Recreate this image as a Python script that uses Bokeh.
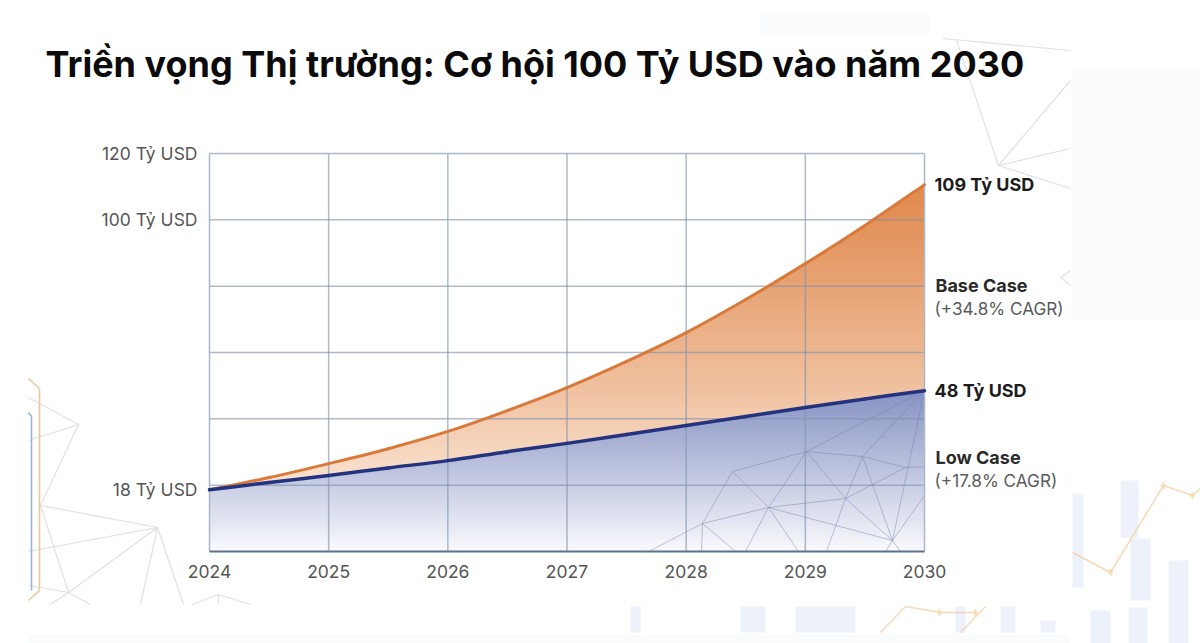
from bokeh.embed import file_html
from bokeh.resources import INLINE
from bokeh.plotting import figure
from bokeh.models import FixedTicker, LinearAxis, Range1d
from bokeh.core.properties import value
import numpy as np

# ---- chart data ----
years = [2024, 2024.5, 2025, 2025.5, 2026, 2026.5, 2027, 2027.5, 2028, 2028.5, 2029, 2029.5, 2030]
base_case = [18.6, 22.3, 26.5, 31.0, 36.2, 42.5, 49.4, 57.3, 66.0, 76.0, 86.8, 98.3, 110.6]
low_case = [18.6, 20.8, 22.9, 25.2, 27.4, 30.1, 32.6, 35.3, 38.0, 40.7, 43.4, 46.0, 48.5]
year_ticks = [2024, 2025, 2026, 2027, 2028, 2029, 2030]
grid_values = [0, 20, 40, 60, 80, 100, 120]
value_ticks = [18.6, 100, 120]
value_labels = ["18 Tỷ USD", "100 Tỷ USD", "120 Tỷ USD"]
title_text = "Triền vọng Thị trường: Cơ hội 100 Tỷ USD vào năm 2030"
end_labels = ["109 Tỷ USD", "Base Case", "(+34.8% CAGR)", "48 Tỷ USD", "Low Case", "(+17.8% CAGR)"]

# ---- faint backdrop artwork (page pixels), not chart data ----
net_outer = [
    ((28,397),(78,424)), ((28,440),(78,424)), ((40,505),(78,424)), ((40,505),(157,527)),
    ((28,551),(157,527)), ((68,592),(157,527)), ((157,527),(140,604)), ((157,527),(183,604)),
    ((40,505),(68,592)), ((68,592),(90,604)), ((68,592),(50,604)), ((28,585),(68,592)),
    ((218,594),(192,604)), ((218,594),(250,604)), ((218,594),(218,604)),
    ((942,38),(1070,50)), ((956,40),(998,165)), ((998,165),(1070,80)),
    ((998,165),(1070,148)), ((998,165),(1070,188)), ((1070,270),(1060,277)), ((1060,277),(1070,285)),
]
net_inner = [
    ((732,471),(806,451)), ((806,451),(862,456)), ((862,456),(905,467)), ((905,467),(924,466)),
    ((806,451),(924,390)), ((862,456),(924,390)), ((892,540),(924,390)), ((732,471),(768,507)),
    ((732,471),(702,523)), ((806,451),(768,507)), ((806,451),(845,498)), ((862,456),(845,498)),
    ((862,456),(892,540)), ((845,498),(892,540)), ((768,507),(845,498)), ((845,498),(905,467)),
    ((768,507),(702,523)), ((768,507),(892,540)), ((702,523),(648,551)), ((702,523),(701,551)),
    ((702,523),(735,551)), ((768,507),(745,551)), ((768,507),(798,551)), ((845,498),(826,551)),
    ((892,540),(885,551)), ((892,540),(900,551)), ((892,540),(924,495)),
]
candles = [(1072,493,1083,587),(1120,480,1138,537),(1130,538,1150,600),(1168,560,1188,643),
           (1090,610,1110,643),(1128,607,1147,643),(630,606,640,632),(740,606,765,632),
           (795,606,830,632),(830,606,855,632),(955,606,965,632),(1000,606,1015,632),(1040,620,1055,632)]
tints = [(28,634,1070,643),(1072,70,1200,320),(760,14,930,34)]
spark = [((1072,552),(1110,572)),((1110,572),(1163,485)),((1163,485),(1192,495)),((1192,495),(1200,488)),
         ((905,606),(940,612)),((940,612),(975,612)),((880,632),(905,606)),((960,632),(985,606))]
spark_dots = [(1110,572),(1163,485),(1192,495),(939,612),(975,612)]
bracket_orange = [((28,378),(39,388)),((39,388),(39,590)),((39,590),(28,600))]
bracket_blue = [((28,412),(31,416)),((31,416),(31,590))]

W, H = 1200, 643
L, R, T, B = 209, 924, 153, 551   # chart frame in page pixels

# The plotting frame fills the whole page so that outside labels are not clipped;
# the data ranges are chosen so that 2024-2030 and 0-120 land on the chart frame.
px_per_year = (R - L) / (year_ticks[-1] - year_ticks[0])
px_per_unit = (B - T) / (grid_values[-1] - grid_values[0])
x_range = Range1d(year_ticks[0] - L / px_per_year, year_ticks[-1] + (W - R) / px_per_year)
y_range = Range1d(grid_values[0] - (H - B) / px_per_unit, grid_values[-1] + T / px_per_unit)

p = figure(width=W, height=H, output_backend="svg", toolbar_location=None,
           x_range=x_range, y_range=y_range, x_axis_location=None, y_axis_location=None,
           min_border=0)
p.extra_x_ranges["page"] = Range1d(0, W)
p.extra_y_ranges["page"] = Range1d(H, 0)
p.background_fill_color = "white"
p.border_fill_color = "white"
p.outline_line_color = None
p.grid.visible = False

def lerp(c0, c1, t):
    return "#%02x%02x%02x" % tuple(int(round(a + (b - a) * t)) for a, b in zip(c0, c1))

def controls(xs, ys):
    """Catmull-Rom control points: the drawn curve passes through every read value."""
    xs, ys = np.asarray(xs, float), np.asarray(ys, float)
    px = np.r_[xs[0], xs, xs[-1]]
    py = np.r_[ys[0], ys, ys[-1]]
    cx0 = xs[:-1] + (px[2:-1] - px[:-3]) / 6
    cy0 = ys[:-1] + (py[2:-1] - py[:-3]) / 6
    cx1 = xs[1:] - (px[3:] - px[1:-2]) / 6
    cy1 = ys[1:] - (py[3:] - py[1:-2]) / 6
    return cx0, cy0, cx1, cy1

def dense(xs, ys, n=30):
    cx0, cy0, cx1, cy1 = controls(xs, ys)
    t = np.linspace(0, 1, n, endpoint=False)[:, None]
    xs, ys = np.asarray(xs, float), np.asarray(ys, float)
    bx = (1-t)**3*xs[:-1] + 3*(1-t)**2*t*cx0 + 3*(1-t)*t**2*cx1 + t**3*xs[1:]
    by = (1-t)**3*ys[:-1] + 3*(1-t)**2*t*cy0 + 3*(1-t)*t**2*cy1 + t**3*ys[1:]
    return np.r_[bx.T.ravel(), xs[-1]], np.r_[by.T.ravel(), ys[-1]]

def page_segments(pairs, color, alpha, width, level):
    p.segment([a[0] for a, b in pairs], [a[1] for a, b in pairs],
              [b[0] for a, b in pairs], [b[1] for a, b in pairs],
              x_range_name="page", y_range_name="page",
              line_color=color, line_alpha=alpha, line_width=width, level=level)

# --- backdrop ---
p.quad(left=[t[0] for t in tints], right=[t[2] for t in tints], top=[t[1] for t in tints], bottom=[t[3] for t in tints],
       x_range_name="page", y_range_name="page", fill_color="#f6f7fb", fill_alpha=0.5, line_alpha=0, level="image")
p.quad(left=[c[0] for c in candles], right=[c[2] for c in candles], top=[c[1] for c in candles], bottom=[c[3] for c in candles],
       x_range_name="page", y_range_name="page", fill_color="#dce5f5", fill_alpha=0.5, line_alpha=0, level="image")
page_segments(net_outer, "#c9cdd3", 0.6, 1.2, "image")
page_segments(spark, "#f2cf9f", 0.75, 1.5, "image")
page_segments(bracket_orange, "#e8c8a0", 1, 1.6, "image")
page_segments(bracket_blue, "#9fb2cf", 1, 1.6, "image")
p.scatter([d[0] for d in spark_dots], [d[1] for d in spark_dots], x_range_name="page", y_range_name="page",
          size=8, marker="diamond", fill_color="#f6d9ac", fill_alpha=0.8, line_alpha=0, level="image")

# --- gradient fills painted as nested bands (level below the grid) ---
fx, fb = dense(years, base_case)
fx2, fl = dense(years, low_case)
bands = np.linspace(120, 0, 121)
for v in bands[:-1]:
    if v > fb.max() + 1:
        continue
    t = max(0.0, min(1.0, (v - 18) / 92))
    col = lerp((251, 232, 217), (224, 137, 77), t ** 0.85)
    p.varea(fx, fl, np.maximum(np.minimum(fb, v), fl), fill_color=col, level="image")
for v in bands[:-1]:
    if v > fl.max() + 1:
        continue
    t = max(0.0, min(1.0, v / 48.5))
    col = lerp((252, 252, 254), (135, 147, 195), t ** 0.95)
    p.varea(fx, np.zeros_like(fx), np.minimum(fl, v), fill_color=col, level="image")

# --- grid and frame ---
page_segments(net_inner, "#717fa8", 0.45, 1.0, "underlay")
inner_years = year_ticks[1:-1]
inner_values = grid_values[1:-1]
p.segment(inner_years, [grid_values[0]] * len(inner_years), inner_years, [grid_values[-1]] * len(inner_years),
          line_color="#7f8fab", line_alpha=0.62, line_width=1.5, level="underlay")
p.segment([year_ticks[0]] * len(inner_values), inner_values, [year_ticks[-1]] * len(inner_values), inner_values,
          line_color="#7f8fab", line_alpha=0.62, line_width=1.5, level="underlay")
p.segment([year_ticks[0], year_ticks[-1], year_ticks[0]], [grid_values[0], grid_values[0], grid_values[-1]],
          [year_ticks[0], year_ticks[-1], year_ticks[-1]], [grid_values[-1], grid_values[-1], grid_values[-1]],
          line_color="#aab6c9", line_width=1.5, level="underlay")

# --- axes, placed inside the page-sized frame ---
FONT = "Inter"
xaxis = LinearAxis(ticker=FixedTicker(ticks=year_ticks), fixed_location=grid_values[0],
                   bounds=(year_ticks[0], year_ticks[-1]))
yaxis = LinearAxis(ticker=FixedTicker(ticks=value_ticks), fixed_location=year_ticks[0],
                   major_label_overrides=dict(zip(value_ticks, value_labels)), axis_line_color=None)
for ax in (xaxis, yaxis):
    ax.major_tick_line_color = None
    ax.minor_tick_line_color = None
    ax.major_label_text_font = FONT
    ax.major_label_text_font_size = "17.5px"
    ax.major_label_text_color = "#555555"
xaxis.axis_line_color = "#5f708a"
xaxis.axis_line_width = 2
xaxis.major_label_standoff = 7
yaxis.major_label_standoff = 6
p.add_layout(xaxis, "below")
p.add_layout(yaxis, "left")

# --- series curves ---
for vals, colour, w in ((base_case, "#d97a3b", 3), (low_case, "#24337f", 3.5)):
    cx0, cy0, cx1, cy1 = controls(years, vals)
    p.bezier(x0=years[:-1], y0=vals[:-1], x1=years[1:], y1=vals[1:],
             cx0=cx0, cy0=cy0, cx1=cx1, cy1=cy1,
             line_color=colour, line_width=w, line_cap="round")

# --- texts ---
def text(s, x, y, size, color, style="normal"):
    p.text([x], [y], text=[s], x_range_name="page", y_range_name="page",
           text_font=value(FONT), text_font_size=value(size), text_color=color, text_font_style=style,
           text_baseline="middle", text_align="left")

text(title_text, 45, 63, "36px", "#0b0b0b", "bold")
text(end_labels[0], 934, 184, "18px", "#1c1c1c", "bold")
text(end_labels[1], 935, 285, "18px", "#2a2a2a", "bold")
text(end_labels[2], 934, 308, "17.2px", "#5a5a5a")
text(end_labels[3], 934, 390, "18px", "#1c1c1c", "bold")
text(end_labels[4], 935, 457, "18px", "#2a2a2a", "bold")
text(end_labels[5], 934, 480, "17.2px", "#5a5a5a")

open("out.html", "w").write(file_html(p, INLINE))
